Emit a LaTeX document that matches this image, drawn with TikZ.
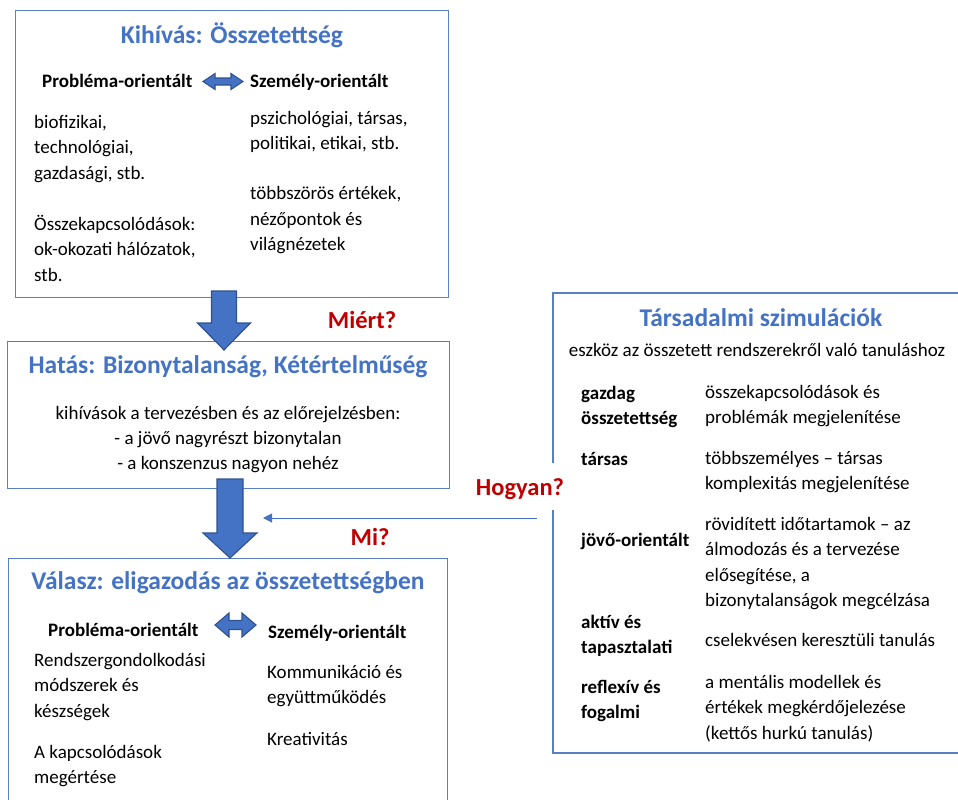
\documentclass[tikz,border=0pt]{standalone}
\usepackage{fontspec}
\setmainfont{Carlito}
\usetikzlibrary{arrows.meta}
\definecolor{mblue}{HTML}{4472C4}
\definecolor{dblue}{HTML}{2F528F}
\definecolor{mred}{HTML}{C00000}
\definecolor{fblue}{HTML}{5B7FC4}
\begin{document}
\begin{tikzpicture}[x=1pt,y=-1pt,
  frame/.style={draw=fblue, line width=1.2pt, inner sep=0, anchor=north west},
  ttl/.style={font=\fontsize{25.5}{30}\selectfont\bfseries, text=mblue, inner sep=0, anchor=center},
  body/.style={font=\fontsize{19}{25.5}\selectfont, align=left, anchor=base west, inner sep=0},
  bodyc/.style={font=\fontsize{19}{25}\selectfont, align=center, anchor=base, inner sep=0},
  hd/.style={font=\fontsize{19}{25.5}\selectfont\bfseries, align=left, anchor=base west, inner sep=0},
  qlabel/.style={font=\fontsize{24.5}{28}\selectfont\bfseries, text=mred, inner sep=0, anchor=center},
  blockarrow/.style={fill=mblue, draw=dblue, line width=1.1pt, line join=miter},
  thinarrow/.style={draw=mblue, line width=1pt, -{Triangle[length=9pt,width=9pt]}}]
\useasboundingbox (0,0) rectangle (958,800);
% (multi-line nodes are placed by the baseline of their last line)

% ---------- Box 1 ----------
\node[frame, minimum width=433pt, minimum height=287pt] (b1) at (15,10) {};
\node[ttl] (t1) at (232,35) {Kihívás: Összetettség};
\node[hd] (p1) at (42,88) {Probléma-orientált};
\node[hd] (s1) at (250,88) {Személy-orientált};
\draw[blockarrow] (203,81.5) -- (215,73.5) -- (215,78) -- (231,78) -- (231,73.5) -- (243,81.5) -- (231,89.5) -- (231,85) -- (215,85) -- (215,89.5) -- cycle;
\node[body] (l1) at (34,281) {biofizikai,\\technológiai,\\gazdasági, stb.\\[25.5pt]Összekapcsolódások:\\ok-okozati hálózatok,\\stb.};
\node[body] (r1) at (250,250.5) {pszichológiai, társas,\\politikai, etikai, stb.\\[24.5pt]többszörös értékek,\\nézőpontok és\\világnézetek};

% ---------- Box 2 ----------
\node[frame, minimum width=442pt, minimum height=147pt] (b2) at (7,341) {};
\node[ttl] (t2) at (228,367) {Hatás: Bizonytalanság, Kétértelműség};
\node[bodyc] (c2) at (228,469) {kihívások a tervezésben és az előrejelzésben:\\- a jövő nagyrészt bizonytalan\\- a konszenzus nagyon nehéz};

% ---------- Box 3 ----------
\node[frame, minimum width=439pt, minimum height=245pt] (b3) at (8,558) {};
\node[ttl] (t3) at (228,583) {Válasz: eligazodás az összetettségben};
\node[hd] (p3) at (48,636) {Probléma-orientált};
\node[hd] (s3) at (268,638) {Személy-orientált};
\draw[blockarrow] (215,625) -- (229,613) -- (229,620.5) -- (242,620.5) -- (242,613) -- (256,625) -- (242,637) -- (242,629.5) -- (229,629.5) -- (229,637) -- cycle;
\node[body] (l3) at (34,783.5) {Rendszergondolkodási\\módszerek és\\készségek\\[15.5pt]A kapcsolódások\\megértése};
\node[body] (r3) at (267,745.5) {Kommunikáció és\\együttműködés\\[16.5pt]Kreativitás};

% ---------- Block arrows ----------
\draw[blockarrow] (211.5,291) -- (236.5,291) -- (236.5,323) -- (250.5,323) -- (224,350) -- (197.5,323) -- (211.5,323) -- cycle;
\draw[blockarrow] (217,479) -- (243,479) -- (243,533) -- (257,533) -- (230,558) -- (203,533) -- (217,533) -- cycle;

% ---------- Box 4 ----------
\draw[draw=fblue, line width=1.2pt] (553,463) -- (553,293) -- (962,293);
\draw[draw=fblue, line width=1.2pt] (553,510) -- (553,753) -- (962,753);
\node[ttl] (t4) at (761,318) {Társadalmi szimulációk};
\node[bodyc] (sub4) at (757,356) {eszköz az összetett rendszerekről való tanuláshoz};
\node[hd] (k1) at (581,424.5) {gazdag\\összetettség};
\node[body] (v1) at (705,423.5) {összekapcsolódások és\\problémák megjelenítése};
\node[hd] (k2) at (581,465) {társas};
\node[body] (v2) at (705,489.5) {többszemélyes – társas\\komplexitás megjelenítése};
\node[hd] (k3) at (581,546) {jövő-orientált};
\node[body] (v3) at (705,606.5) {rövidített időtartamok – az\\álmodozás és a tervezése\\elősegítése, a\\bizonytalanságok megcélzása};
\node[hd] (k4) at (581,653.5) {aktív és\\tapasztalati};
\node[body] (v4) at (705,646) {cselekvésen keresztüli tanulás};
\node[hd] (k5) at (581,718.5) {reflexív és\\fogalmi};
\node[body] (v5) at (705,739) {a mentális modellek és\\értékek megkérdőjelezése\\(kettős hurkú tanulás)};

% ---------- Questions and link ----------
\node[qlabel] (q1) at (362,320) {Miért?};
\node[qlabel] (q2) at (370,537) {Mi?};
\node[qlabel] (q3) at (520,489) {Hogyan?};
\coordinate (hs) at (537,518);
\coordinate (he) at (263,518);
\draw[thinarrow] (hs) -- (he);
\end{tikzpicture}
\end{document}
